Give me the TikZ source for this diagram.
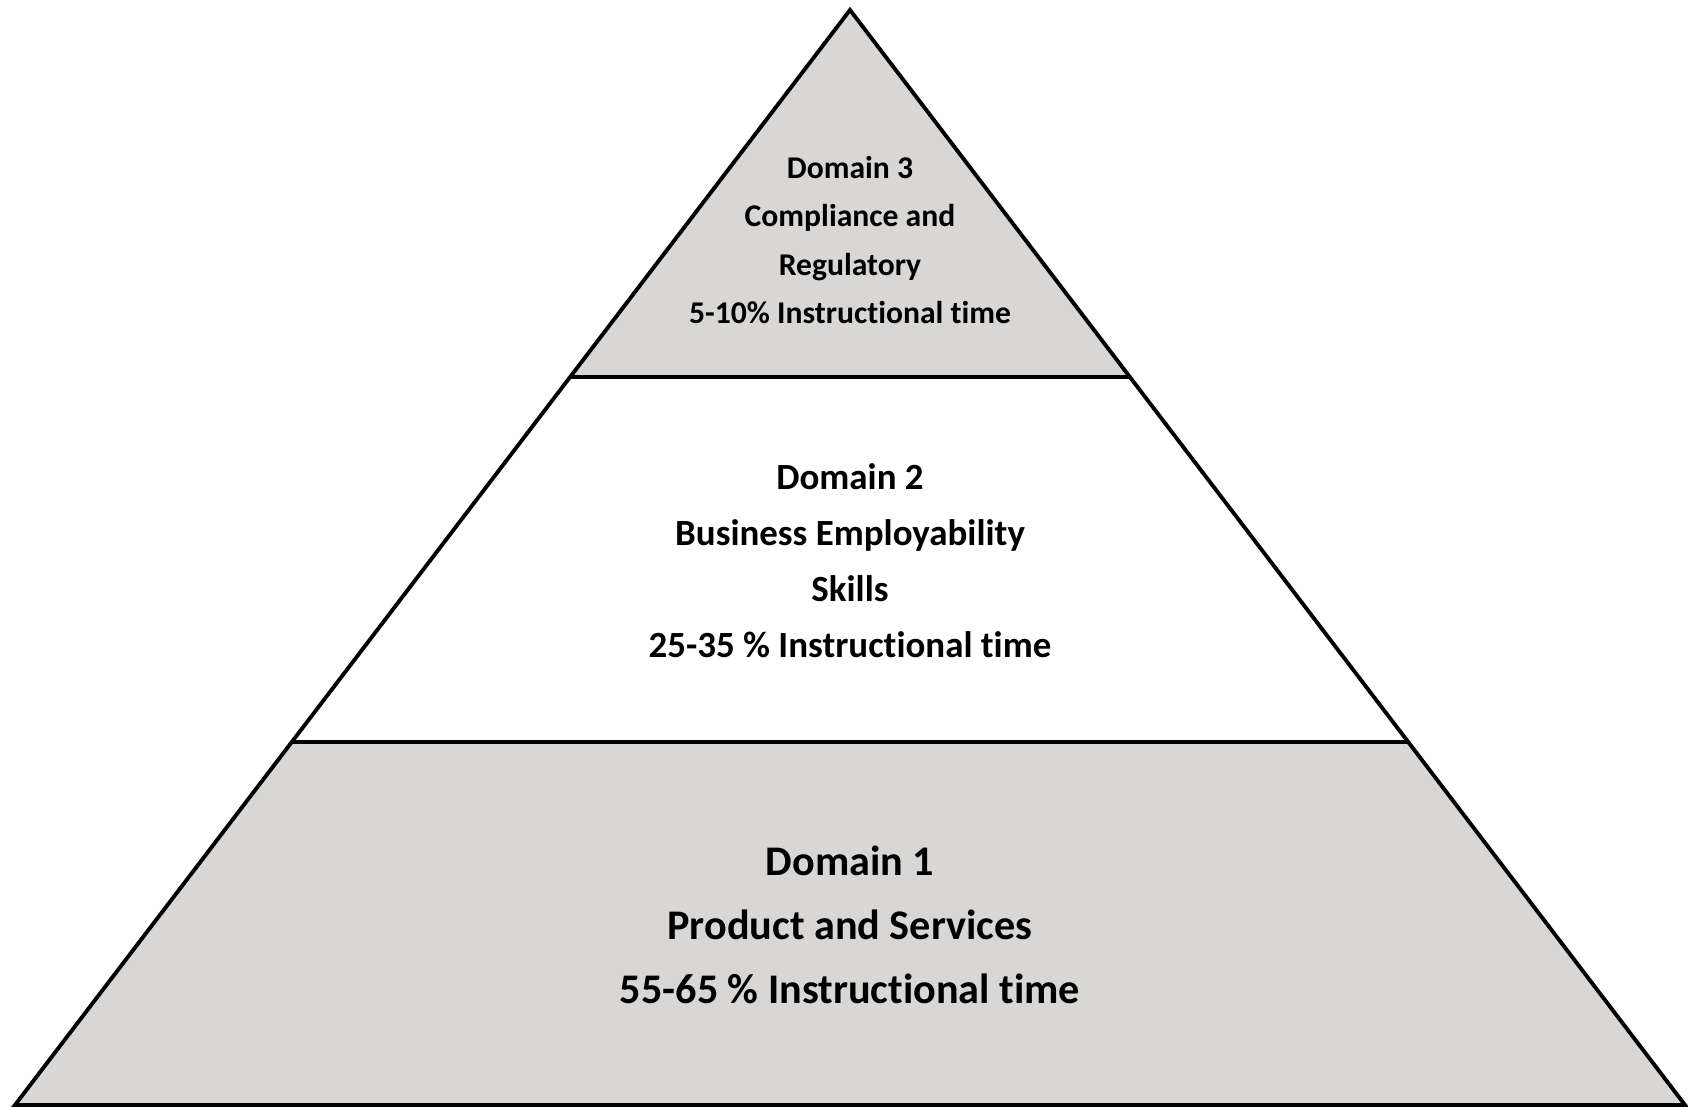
\documentclass[tikz,border=0pt]{standalone}
\usepackage{fontspec}
\setmainfont{Carlito}[Ligatures={NoCommon}]
\definecolor{tiergray}{RGB}{216,215,213}

\newcommand{\tierlabel}[5]{
\node[font=\bfseries\fontsize{#3}{#4}\selectfont, align=center]
(#1) at (850, #2) {#5};
}

\begin{document}
\begin{tikzpicture}[x=0.01cm, y=-0.01cm, line width=1.1pt]
\useasboundingbox (0,0) rectangle (1688,1107);

\coordinate (top) at (850,10);
\coordinate (bl) at (15,1105);
\coordinate (br) at (1685,1105);
\coordinate (ml) at (292,742);
\coordinate (mr) at (1408,742);
\coordinate (ul) at (571,377);
\coordinate (ur) at (1129,377);

\fill[tiergray] (bl) -- (br) -- (mr) -- (ml) -- cycle;
\fill[tiergray] (ul) -- (ur) -- (top) -- cycle;

\draw (top) -- (bl) -- (br) -- cycle;
\draw (ml) -- (mr);
\draw (ul) -- (ur);

\tierlabel{d3}{240}{9.0}{13.8}{Domain 3\\Compliance and\\Regulatory\\5-10\% Instructional time}
\tierlabel{d2}{561}{10.5}{15.9}{Domain 2\\Business Employability\\Skills\\25-35 \% Instructional time}
\tierlabel{d1}{925}{12.0}{18.2}{Domain 1\\Product and Services\\55-65 \% Instructional time}

\end{tikzpicture}
\end{document}
